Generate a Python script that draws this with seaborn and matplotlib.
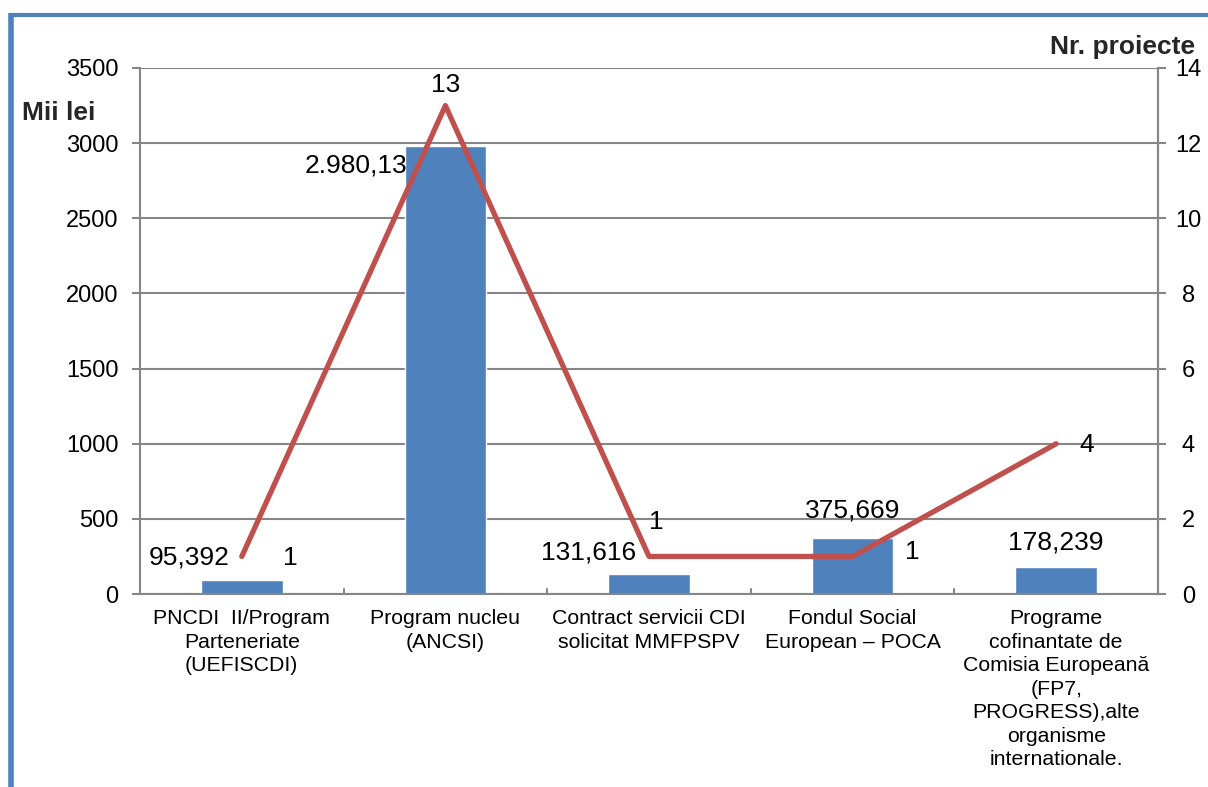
import matplotlib
matplotlib.use("Agg")
import matplotlib.pyplot as plt
from matplotlib.lines import Line2D
import numpy as np
import pandas as pd
import seaborn as sns

categories = [
    "PNCDI  II/Program\nParteneriate\n(UEFISCDI)",
    "Program nucleu\n(ANCSI)",
    "Contract servicii CDI\nsolicitat MMFPSPV",
    "Fondul Social\nEuropean – POCA",
    "Programe\ncofinantate de\nComisia Europeană\n(FP7,\nPROGRESS),alte\norganisme\ninternationale.",
]
amounts = [95.392, 2980.13, 131.616, 375.669, 178.239]
amount_labels = ["95,392", "2.980,13", "131,616", "375,669", "178,239"]
projects = [1, 13, 1, 1, 4]
project_labels = ["1", "13", "1", "1", "4"]

BLUE = "#4F81BD"
RED = "#C0504D"
GRID = "#868686"

sns.set_theme(style="white")
plt.rcParams["font.family"] = ["Liberation Sans", "DejaVu Sans"]

fig = plt.figure(figsize=(12.08, 7.87), dpi=100)
ax = fig.add_axes([0.1159, 0.2452, 0.8427, 0.6684])

df = pd.DataFrame({"cat": categories, "amount": amounts})
sns.barplot(data=df, x="cat", y="amount", color=BLUE, saturation=1,
            width=0.4, ax=ax)
ax.set_ylim(0, 3500)
ax.set_yticks(np.arange(0, 3501, 500))
ax.set_xlim(-0.5, len(categories) - 0.5)
ax.set_xlabel("")
ax.set_ylabel("")
ax.yaxis.grid(True, color=GRID, linewidth=1.5)
ax.set_axisbelow(True)
for side in ["left", "bottom", "right"]:
    ax.spines[side].set_color(GRID)
    ax.spines[side].set_linewidth(1.5)
ax.spines["top"].set_visible(False)
ax.tick_params(axis="y", labelsize=17, colors=GRID, labelcolor="black",
               length=6, width=1.5, left=True, pad=9.5)
ax.set_xticks(range(len(categories)))
ax.set_xticklabels(categories, fontsize=15.3, linespacing=1.3)
ax.tick_params(axis="x", length=0, pad=11, labelcolor="black")
# small separator ticks between categories
for b in np.arange(0.5, len(categories) - 0.5, 1):
    ax.plot([b, b], [0, 35], color=GRID, linewidth=1.5, clip_on=False)

ax2 = ax.twinx()
sns.lineplot(x=np.arange(len(projects)), y=projects, color=RED,
             linewidth=3.8, ax=ax2)
ax2.set_ylim(0, 14)
ax2.set_yticks(np.arange(0, 15, 2))
ax2.set_xlim(-0.5, len(categories) - 0.5)
ax2.tick_params(axis="y", labelsize=17, colors=GRID, labelcolor="black",
                length=6, width=1.5, right=True, pad=16)
for lbl in ax2.get_yticklabels():
    lbl.set_horizontalalignment("center")
for side in ["left", "bottom", "top"]:
    ax2.spines[side].set_visible(False)
ax2.spines["right"].set_color(GRID)
ax2.spines["right"].set_linewidth(1.5)

bar_offsets = [(-53, 22), (-89, -19), (-60, 22), (0, 27), (0, 25)]
for i, (val, lab) in enumerate(zip(amounts, amount_labels)):
    ax.annotate(lab, xy=(i, val), xytext=bar_offsets[i],
                textcoords="offset pixels", ha="center", va="center",
                fontsize=19, color="black")

line_offsets = [(49, -2), (0, 21), (7, 34), (60, 4), (30, -1)]
for i, (val, lab) in enumerate(zip(projects, project_labels)):
    ax2.annotate(lab, xy=(i, val), xytext=line_offsets[i],
                 textcoords="offset pixels", ha="center", va="center",
                 fontsize=19, color="black")

fig.text(22 / 1208, 0.856, "Mii lei", fontsize=19, fontweight="bold",
         ha="left", va="center")
fig.text(1195 / 1208, 0.940, "Nr. proiecte", fontsize=19, fontweight="bold",
         ha="right", va="center")

# outer frame (left and top edges)
fig.add_artist(Line2D([11 / 1208, 11 / 1208], [0, 1 - 13 / 787],
                      transform=fig.transFigure, color=BLUE, linewidth=4,
                      solid_capstyle="butt"))
fig.add_artist(Line2D([9 / 1208, 1], [1 - 15 / 787, 1 - 15 / 787],
                      transform=fig.transFigure, color=BLUE, linewidth=3,
                      solid_capstyle="butt"))

fig.savefig("out.png", dpi=100)
